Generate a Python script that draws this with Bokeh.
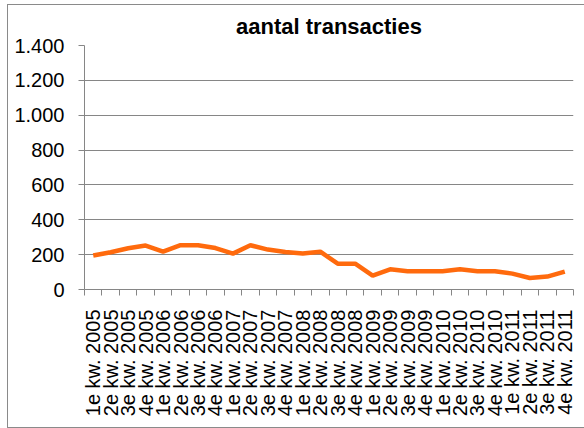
from bokeh.plotting import figure
from bokeh.models import FixedTicker, Range1d
from bokeh.embed import file_html
from bokeh.resources import INLINE

title_text = "aantal transacties"
quarters = ["1e", "2e", "3e", "4e"]
years = ["2005", "2006", "2007", "2008", "2009", "2010", "2011"]
categories = [f"{q} kw. {y}" for y in years for q in quarters]
transacties = [195, 214, 237, 252, 217, 254, 254, 238, 206, 254, 229, 215, 206, 217,
               148, 148, 80, 116, 105, 105, 105, 116, 105, 105, 91, 66, 74, 103]
y_ticks = [0, 200, 400, 600, 800, 1000, 1200, 1400]
y_labels = ["0", "200", "400", "600", "800", "1.000", "1.200", "1.400"]

n = len(categories)
xs = [i + 0.5 for i in range(n)]

p = figure(width=577, height=424, output_backend="svg", toolbar_location=None,
           x_range=Range1d(0, n), y_range=Range1d(0, 1400),
           min_border_left=76, min_border_right=12, min_border_top=0, min_border_bottom=140)
p.title.text = title_text
p.title.align = "center"
p.title.text_font = "Liberation Sans"
p.title.text_font_size = "22px"
p.title.text_font_style = "bold"
p.title.text_color = "#000000"
p.title.offset = 0
p.title.standoff = 13

p.line(xs, transacties, line_color="#FF6A0D", line_width=4.5)

# x axis
p.xaxis.ticker = FixedTicker(ticks=xs, minor_ticks=list(range(n + 1)))
p.xaxis.major_label_overrides = {x: c for x, c in zip(xs, categories)}
p.xaxis.major_label_orientation = 1.5707963267948966
p.xaxis.major_tick_out = 0
p.xaxis.major_tick_in = 0
p.xaxis.minor_tick_out = 6
p.xaxis.minor_tick_in = 0
p.xaxis.minor_tick_line_color = "#868686"
p.xaxis.major_label_standoff = 14
p.xaxis.major_label_text_font = "Liberation Sans"
p.xaxis.major_label_text_font_size = "20px"
p.xaxis.major_label_text_color = "#000000"
p.xaxis.axis_line_color = "#868686"

# y axis
p.yaxis.ticker = FixedTicker(ticks=y_ticks)
p.yaxis.major_label_overrides = {t: l for t, l in zip(y_ticks, y_labels)}
p.yaxis.major_tick_out = 6
p.yaxis.major_tick_in = 0
p.yaxis.minor_tick_line_color = None
p.yaxis.major_tick_line_color = "#868686"
p.yaxis.major_label_standoff = 14
p.yaxis.major_label_text_font = "Liberation Sans"
p.yaxis.major_label_text_font_size = "20px"
p.yaxis.major_label_text_color = "#000000"
p.yaxis.axis_line_color = "#868686"

p.xgrid.grid_line_color = None
p.ygrid.grid_line_color = "#868686"
p.ygrid.grid_line_width = 1
p.outline_line_color = None
p.background_fill_color = "white"
p.border_fill_color = "white"
p.styles = {"margin-left": "7px", "margin-top": "4px",
            "border-left": "1px solid #8a8a8a", "border-top": "1px solid #8a8a8a",
            "border-bottom": "1px solid #8a8a8a"}

open("out.html", "w").write(file_html(p, INLINE))
